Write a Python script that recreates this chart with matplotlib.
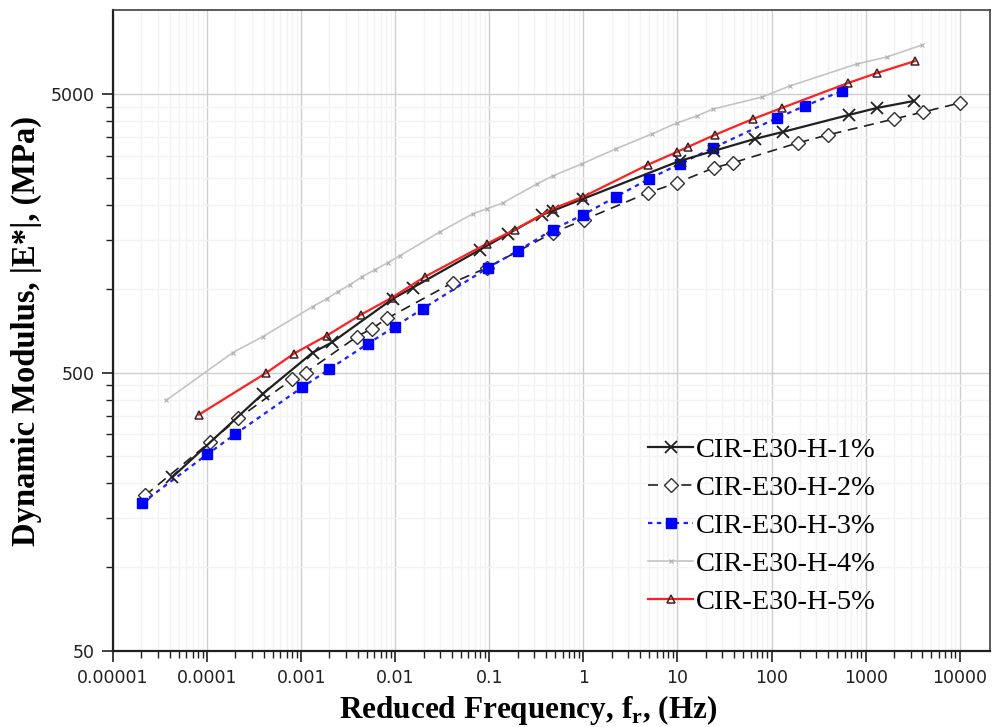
import matplotlib
matplotlib.use("Agg")
import matplotlib.pyplot as plt
import matplotlib.ticker as mticker
import numpy as np

# master curve data: reduced frequency (Hz) and dynamic modulus |E*| (MPa)
f_1 = [4.24e-5, 3.93e-4, 1.33e-3, 2.12e-3, 9.46e-3, 0.0154, 0.0794, 0.158, 0.362, 0.474,
       0.99, 10.6, 24.4, 66.5, 132, 662, 1315, 3252]
E_1 = [210, 420, 590, 641, 921, 1009, 1380, 1574, 1841, 1905,
       2102, 2877, 3125, 3450, 3655, 4205, 4455, 4720]

f_2 = [2.19e-5, 1.07e-4, 2.13e-4, 7.98e-4, 1.12e-3, 3.92e-3, 5.65e-3, 8.17e-3, 0.041, 0.094,
       0.474, 1.01, 4.84, 9.86, 24.4, 38.8, 190, 396, 1995, 4055, 10020]
E_2 = [181, 281, 342, 472, 500, 673, 719, 782, 1052, 1189,
       1588, 1767, 2209, 2399, 2716, 2831, 3337, 3565, 4066, 4305, 4644]

f_3 = [2.03e-5, 9.98e-5, 1.98e-4, 1.02e-3, 1.97e-3, 5.13e-3, 9.93e-3, 0.0197, 0.0966, 0.201,
       0.474, 0.99, 2.21, 4.97, 10.6, 23.8, 114, 226, 559]
E_3 = [170, 254, 300, 442, 513, 635, 731, 848, 1189, 1368,
       1630, 1841, 2137, 2479, 2806, 3200, 4100, 4530, 5125]

f_4 = [3.66e-5, 1.88e-4, 3.93e-4, 1.33e-3, 1.88e-3, 2.46e-3, 3.30e-3, 4.43e-3, 6.08e-3, 8.36e-3,
       0.0112, 0.0299, 0.067, 0.094, 0.140, 0.321, 0.474, 0.96, 2.21, 5.35,
       9.86, 16.1, 23.8, 78.9, 156, 806, 1680, 3955]
E_4 = [397, 590, 673, 863, 921, 976, 1033, 1104, 1170, 1240,
       1313, 1600, 1858, 1936, 2033, 2378, 2541, 2806, 3177, 3595,
       3935, 4170, 4415, 4874, 5343, 6410, 6790, 7495]

f_5 = [8.2e-5, 4.23e-4, 8.4e-4, 1.88e-3, 4.33e-3, 9.2e-3, 0.0207, 0.094, 0.187, 0.474,
       0.99, 4.84, 9.86, 12.9, 24.9, 63.2, 128.6, 647, 1315, 3334]
E_5 = [353, 498, 585, 679, 807, 928, 1104, 1450, 1630, 1936,
       2137, 2786, 3097, 3228, 3565, 4066, 4455, 5472, 5945, 6565]

labels = ["CIR-E30-H-1%", "CIR-E30-H-2%", "CIR-E30-H-3%", "CIR-E30-H-4%", "CIR-E30-H-5%"]

x_ticks = [1e-5, 1e-4, 1e-3, 1e-2, 1e-1, 1, 10, 100, 1000, 10000]
x_ticklabels = ["0.00001", "0.0001", "0.001", "0.01", "0.1", "1", "10", "100", "1000", "10000"]
y_ticks = [50, 500, 5000]

fig = plt.figure(figsize=(9.93, 7.27), dpi=100)
ax = fig.add_axes([0.1138, 0.1045, 0.8832, 0.8815])

ax.plot(f_1, E_1, color="#202020", lw=1.6, marker="x", ms=9, mew=1.3, label=labels[0], zorder=5)
ax.plot(f_2, E_2, color="#202020", lw=1.2, ls=(0, (6, 4)), marker="D", ms=7, mfc="white",
        mec="#303030", mew=1.0, label=labels[1], zorder=4)
ax.plot(f_3, E_3, color="#1f1fff", lw=1.6, ls=(0, (2, 2)), marker="s", ms=7, mfc="#0000ff",
        mec="#0000ff", label=labels[2], zorder=4)
ax.plot(f_4, E_4, color="#c4c4c4", lw=1.2, marker="x", ms=3, mew=0.8, mec="#b0b0b0",
        label=labels[3], zorder=3)
ax.plot(f_5, E_5, color="#ff2020", lw=1.6, marker="^", ms=6, mfc="none", mec="#402020",
        mew=1.1, label=labels[4], zorder=6)

ax.set_xscale("log")
ax.set_yscale("log")
ax.set_xlim(1e-5, 2.1e4)
ax.set_ylim(50, 10000)

ax.xaxis.set_major_locator(mticker.FixedLocator(x_ticks))
ax.xaxis.set_major_formatter(mticker.FixedFormatter(x_ticklabels))
ax.xaxis.set_minor_locator(mticker.FixedLocator(
    [m * d for d in x_ticks[:-1] for m in range(2, 10)]))
ax.xaxis.set_minor_formatter(mticker.NullFormatter())

ax.yaxis.set_major_locator(mticker.FixedLocator(y_ticks))
ax.yaxis.set_major_formatter(mticker.FixedFormatter([str(v) for v in y_ticks]))
ax.yaxis.set_minor_locator(mticker.FixedLocator(
    [m * d for d in (50, 500) for m in range(2, 10)]))
ax.yaxis.set_minor_formatter(mticker.NullFormatter())

ax.grid(which="major", color="#cfcfcf", lw=1.0)
ax.grid(which="minor", color="#f3f3f3", lw=1.0)
ax.set_axisbelow(True)

for side in ("left", "bottom"):
    ax.spines[side].set_linewidth(1.6)
    ax.spines[side].set_color("#202020")
for side in ("top", "right"):
    ax.spines[side].set_linewidth(1.2)
    ax.spines[side].set_color("#404040")

ax.tick_params(which="major", direction="out", length=8, width=1.2, labelsize=12.5, pad=5,
               colors="#202020")
ax.tick_params(which="minor", direction="out", length=5, width=1.0, colors="#202020")

ax.set_xlabel(r"Reduced Frequency, f$_\mathregular{r}$, (Hz)", family="Liberation Serif",
              fontweight="bold", fontsize=22.5)
ax.xaxis.set_label_coords(0.473, -0.066)
ax.set_ylabel("Dynamic Modulus, |E*|, (MPa)", family="Liberation Serif",
              fontweight="bold", fontsize=23.5)
ax.yaxis.set_label_coords(-0.081, 0.5)

ax.legend(loc="center", bbox_to_anchor=(0.74, 0.195), frameon=False,
          prop={"family": "Liberation Serif", "size": 20.5}, handlelength=1.6,
          handletextpad=0.1, labelspacing=0.42)

fig.savefig("out.png", dpi=100)
